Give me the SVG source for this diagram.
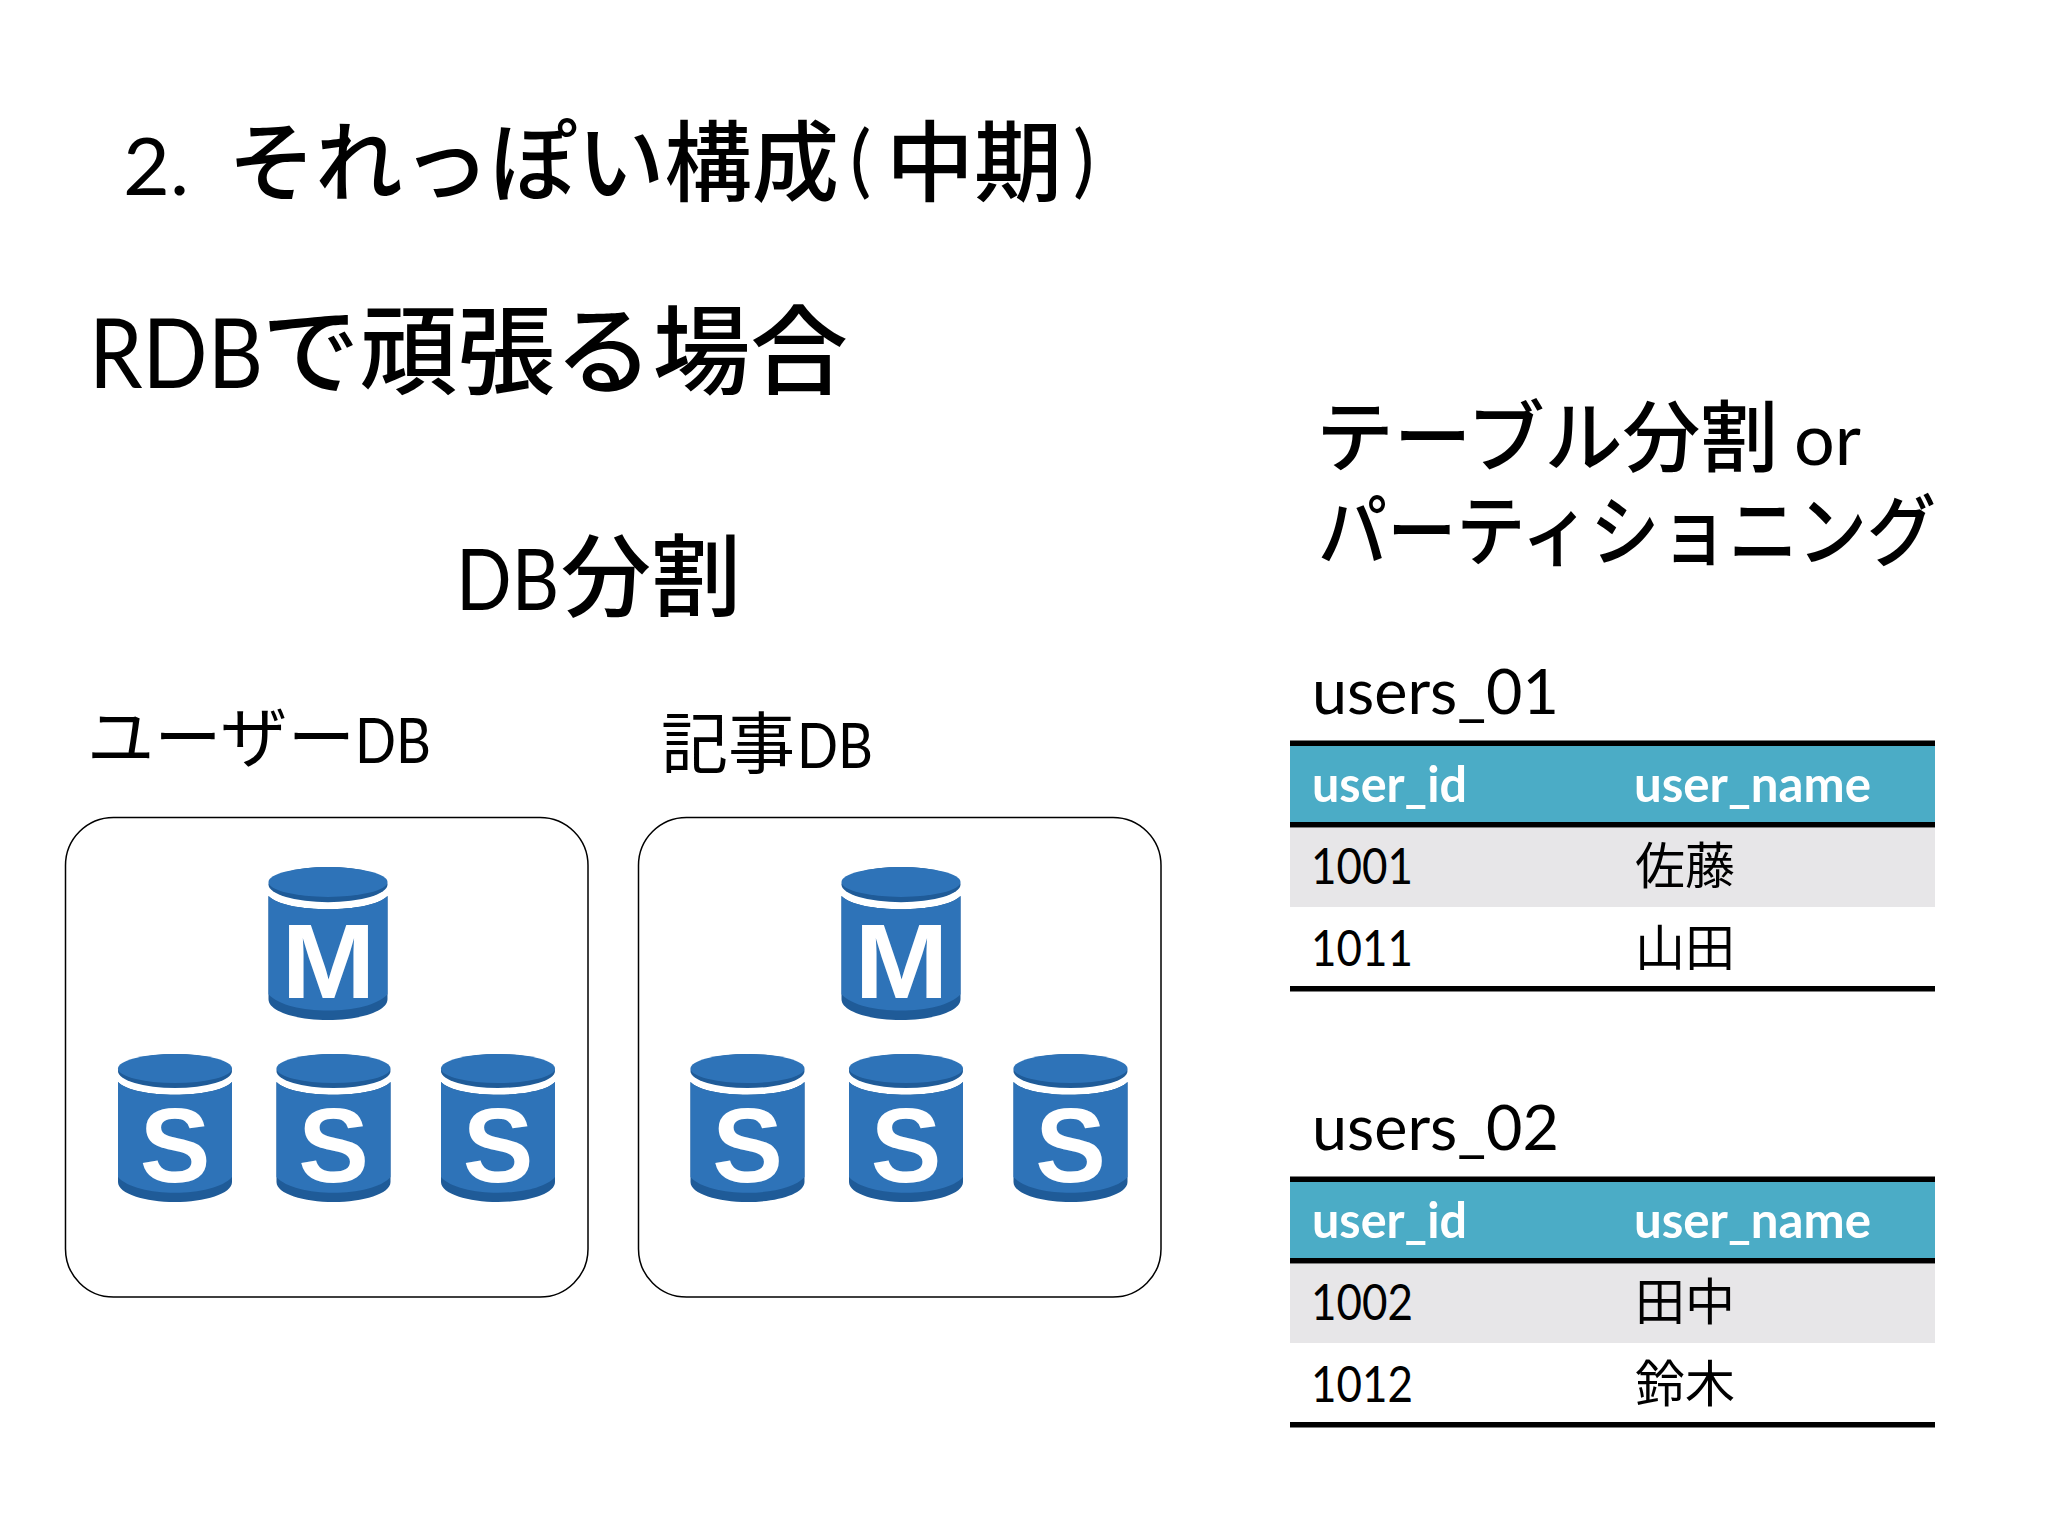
<svg xmlns="http://www.w3.org/2000/svg" width="2048" height="1536" viewBox="0 0 2048 1536">
<style>
text{font-family:"Lato","Noto Sans CJK JP",sans-serif;fill:#000}
.cj{font-family:"Noto Sans CJK JP",sans-serif;font-weight:500}
.r{font-weight:400}
.hd{font-weight:700;fill:#fff;font-size:50px}
.cell{font-size:50px}
.lt{font-family:"Liberation Sans",sans-serif;font-weight:700;fill:#fff;text-anchor:middle}
.panel{fill:#fff;stroke:#000;stroke-width:1.5}
</style>
<defs>
<g id="cyl">
<path d="M0 28C14 45 86 45 100 28V128C100 140 76 148 50 148S0 140 0 128Z" fill="#1f5b98"/>
<path d="M0 28C14 45 86 45 100 28V123C84 144 16 144 0 123Z" fill="#2e73b8"/>
<ellipse cx="50" cy="17" rx="50" ry="17" fill="#1f5b98"/>
<ellipse cx="50" cy="14.500" rx="50" ry="14.500" fill="#2e73b8"/>
</g>
<g id="tbl">
<rect x="1290" y="746" width="645" height="76" fill="#4bacc6"/>
<rect x="1290" y="828" width="645" height="79" fill="#e7e6e8"/>
<rect x="1290" y="740.500" width="645" height="5.500" fill="#000"/>
<rect x="1290" y="822" width="645" height="5.500" fill="#000"/>
<rect x="1290" y="986" width="645" height="5.500" fill="#000"/>
<text class="hd" x="1312" y="802" textLength="155" lengthAdjust="spacingAndGlyphs">user_id</text>
<text class="hd" x="1634" y="802" textLength="237" lengthAdjust="spacingAndGlyphs">user_name</text>
</g>
</defs>
<rect width="2048" height="1536" fill="#fff"/>
<g id="title">
<text x="123" y="195" font-size="80" textLength="66" lengthAdjust="spacingAndGlyphs">2.</text>
<text class="cj" x="228" y="194" font-size="88" textLength="611" lengthAdjust="spacingAndGlyphs">それっぽい構成</text>
<text x="850" y="188" font-size="80">(</text>
<text class="cj" x="886" y="194" font-size="88">中期</text>
<text x="1073" y="188" font-size="80">)</text>
</g>
<g id="heading">
<text x="89" y="388" font-size="96" textLength="174" lengthAdjust="spacingAndGlyphs">RDB</text>
<text class="cj" x="262" y="386" font-size="97" textLength="586" lengthAdjust="spacingAndGlyphs">で頑張る場合</text>
</g>
<g id="db-split-label">
<text x="456" y="610" font-size="86" textLength="103" lengthAdjust="spacingAndGlyphs">DB</text>
<text class="cj" x="561" y="609" font-size="90">分割</text>
</g>
<g id="table-split-label">
<text class="cj" x="1316" y="466" font-size="78" textLength="462" lengthAdjust="spacingAndGlyphs">テーブル分割</text>
<text x="1794" y="465" font-size="72" textLength="67" lengthAdjust="spacingAndGlyphs">or</text>
<text class="cj" x="1318" y="560" font-size="78" textLength="618" lengthAdjust="spacingAndGlyphs">パーティショニング</text>
</g>
<g id="user-db">
<text class="cj r" x="87" y="762" font-size="67" textLength="268" lengthAdjust="spacingAndGlyphs">ユーザー</text>
<text x="355" y="763" font-size="62" textLength="76" lengthAdjust="spacingAndGlyphs">DB</text>
<rect class="panel" x="65.500" y="817.500" width="522.500" height="479.500" rx="48"/>
<use href="#cyl" transform="translate(268.500 867) scale(1.19 1.034)"/>
<text class="lt" x="328.500" y="998" font-size="106" textLength="94" lengthAdjust="spacingAndGlyphs">M</text>
<use href="#cyl" transform="translate(118 1054)scale(1.14 1)"/>
<text class="lt" x="175" y="1182" font-size="106">S</text>
<use href="#cyl" transform="translate(276.500 1054)scale(1.14 1)"/>
<text class="lt" x="333.500" y="1182" font-size="106">S</text>
<use href="#cyl" transform="translate(441 1054)scale(1.14 1)"/>
<text class="lt" x="498" y="1182" font-size="106">S</text>
</g>
<g id="article-db">
<text class="cj r" x="661" y="768" font-size="67">記事</text>
<text x="797" y="768" font-size="62" textLength="76" lengthAdjust="spacingAndGlyphs">DB</text>
<rect class="panel" x="638.500" y="817.500" width="522.500" height="479.500" rx="48"/>
<use href="#cyl" transform="translate(841.500 867) scale(1.19 1.034)"/>
<text class="lt" x="901.500" y="998" font-size="106" textLength="94" lengthAdjust="spacingAndGlyphs">M</text>
<use href="#cyl" transform="translate(690.500 1054)scale(1.14 1)"/>
<text class="lt" x="747.500" y="1182" font-size="106">S</text>
<use href="#cyl" transform="translate(849 1054)scale(1.14 1)"/>
<text class="lt" x="906" y="1182" font-size="106">S</text>
<use href="#cyl" transform="translate(1013.500 1054)scale(1.14 1)"/>
<text class="lt" x="1070.500" y="1182" font-size="106">S</text>
</g>
<g id="users-01">
<text x="1312" y="714" font-size="62" textLength="247" lengthAdjust="spacingAndGlyphs">users_01</text>
<use href="#tbl"/>
<text class="cell" x="1311" y="884" textLength="102" lengthAdjust="spacingAndGlyphs">1001</text>
<text class="cj r cell" x="1635" y="884">佐藤</text>
<text class="cell" x="1311" y="966" textLength="102" lengthAdjust="spacingAndGlyphs">1011</text>
<text class="cj r cell" x="1635" y="966">山田</text>
</g>
<g id="users-02" transform="translate(0 436)">
<text x="1312" y="714" font-size="62" textLength="247" lengthAdjust="spacingAndGlyphs">users_02</text>
<use href="#tbl"/>
<text class="cell" x="1311" y="884" textLength="102" lengthAdjust="spacingAndGlyphs">1002</text>
<text class="cj r cell" x="1635" y="884">田中</text>
<text class="cell" x="1311" y="966" textLength="102" lengthAdjust="spacingAndGlyphs">1012</text>
<text class="cj r cell" x="1635" y="966">鈴木</text>
</g>
</svg>
